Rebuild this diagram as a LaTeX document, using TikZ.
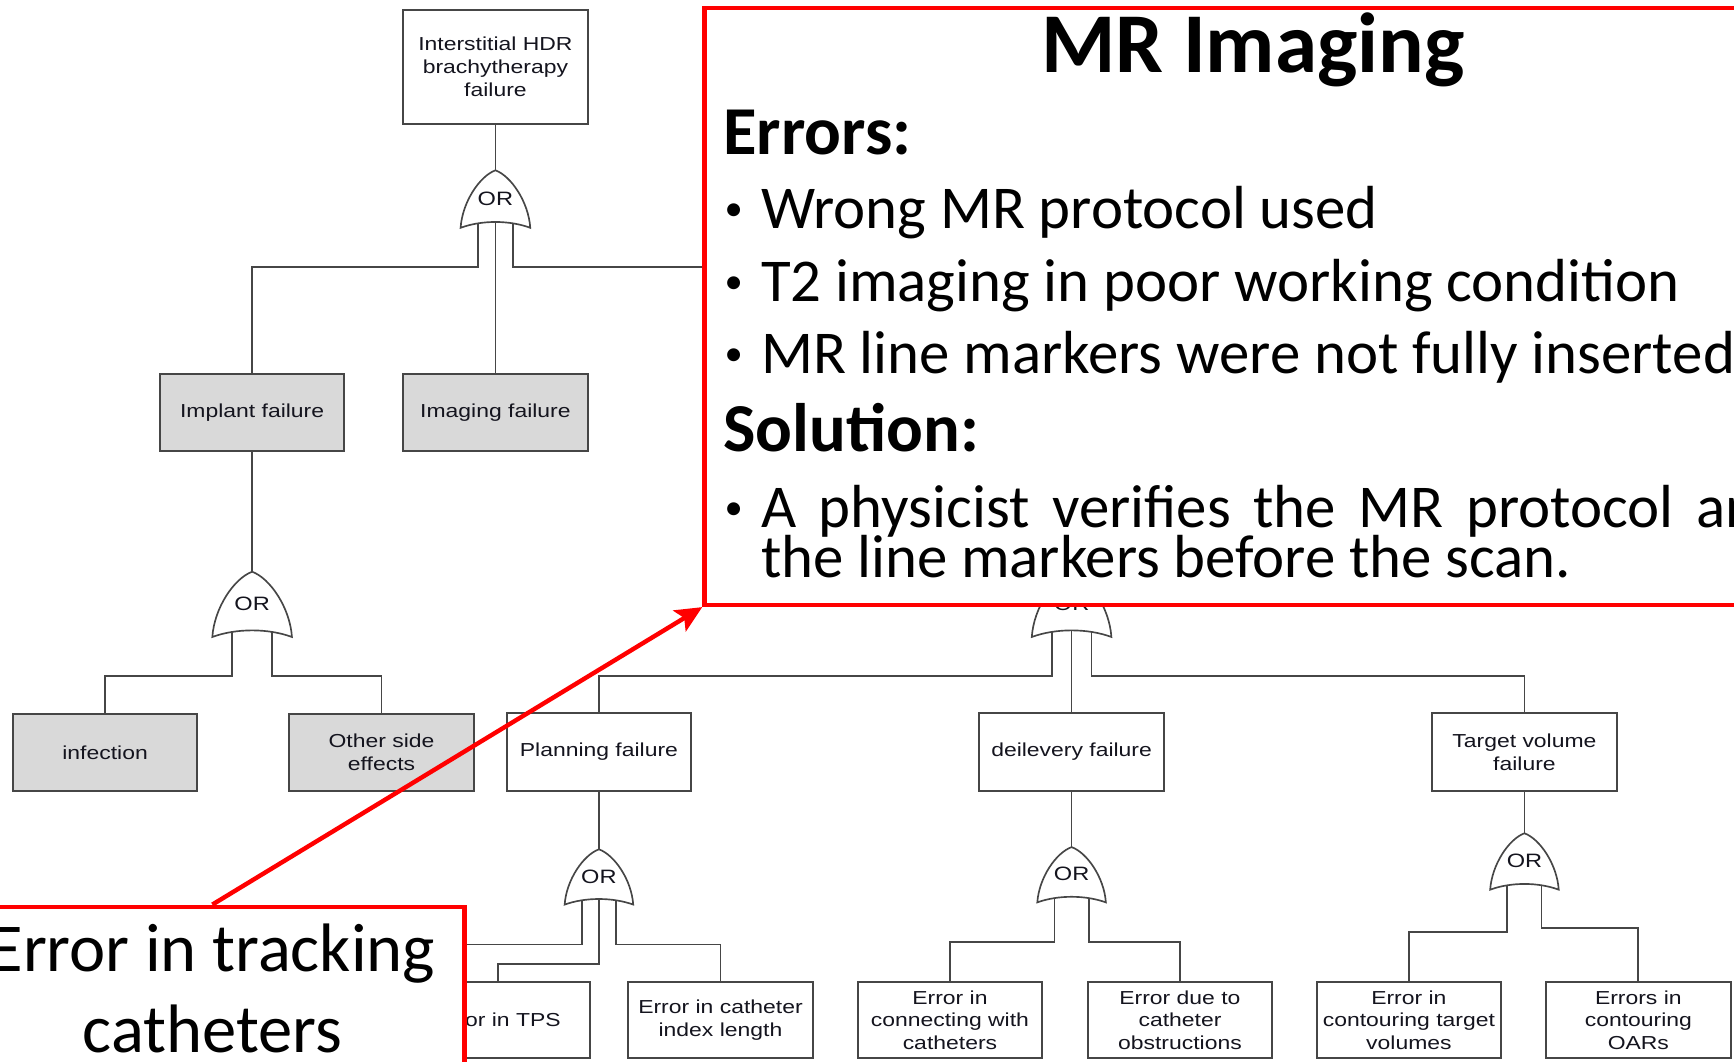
\documentclass[tikz,border=0pt]{standalone}
\usepackage{fontspec}
\setmainfont{Carlito}
\newfontfamily\diagfont[FakeStretch=1.22]{Liberation Sans}
\usetikzlibrary{arrows.meta,calc}
\pgfdeclarelayer{bg}
\pgfsetlayers{bg,main}
\definecolor{linec}{RGB}{70,70,70}
\definecolor{boxgrey}{RGB}{217,217,217}
\definecolor{txtc}{RGB}{20,20,30}
\definecolor{callred}{RGB}{255,0,0}
\tikzset{
  fbox/.style={draw=linec, line width=1.8pt, minimum width=167pt, minimum height=69pt,
    align=center, inner sep=2pt, text=txtc, font=\diagfont\fontsize{17}{20.5}\selectfont},
  gbox/.style={fbox, fill=boxgrey},
  wbox/.style={fbox, fill=white},
  conn/.style={draw=linec, line width=1.6pt},
  gateline/.style={draw=linec, line width=1.5pt, fill=white},
  redbox/.style={draw=callred, line width=4pt, fill=white, inner sep=0pt},
  btxt/.style={anchor=base west, inner sep=0pt, font=\fontsize{55}{66}\selectfont},
  bul/.style={anchor=base west, inner sep=0pt, font=\fontsize{33}{40}\selectfont},
  hdr/.style={anchor=base west, inner sep=0pt, font=\bfseries\fontsize{62}{70}\selectfont},
  trk/.style={anchor=base, inner sep=0pt, font=\fontsize{62}{70}\selectfont},
  pics/orgate/.style n args={2}{code={
    \path[gateline] (0,0) .. controls (0.45*#1,0.1*#2) and (0.95*#1,0.55*#2) .. (#1,#2)
      .. controls (0.4*#1,0.865*#2) and (-0.4*#1,0.865*#2) .. (-#1,#2)
      .. controls (-0.95*#1,0.55*#2) and (-0.45*#1,0.1*#2) .. cycle;
    \node[inner sep=0pt, text=txtc, font=\diagfont\fontsize{17.5}{20}\selectfont] at (0,0.49*#2) {OR};
    \coordinate (-apex) at (0,0);
    \coordinate (-l) at (-0.5*#1,0.8*#2);
    \coordinate (-m) at (0,0.8*#2);
    \coordinate (-r) at (0.5*#1,0.8*#2);
  }}
}
\begin{document}
\begin{tikzpicture}[x=1pt,y=-1pt]
\useasboundingbox (0,0) rectangle (1568,960);
\clip (0,0) rectangle (1568,960);

% level coordinates
\coordinate (lv1) at (0,241.5);
\coordinate (lv2) at (0,611);
\coordinate (lv4a) at (0,854);
\coordinate (lv4b) at (0,872);
\coordinate (lv5) at (0,852);
\coordinate (lv6a) at (0,843);
\coordinate (lv6b) at (0,839);
\coordinate (hid1) at (969,241.5);
\coordinate (hid2) at (300,854);

% boxes
\node[wbox, minimum height=103pt] (top) at (448,60.5) {Interstitial HDR\\brachytherapy\\failure};
\node[gbox] (implant) at (228,373) {Implant failure};
\node[gbox] (imaging) at (448,373) {Imaging failure};
\node[gbox, minimum height=70pt] (infection) at (95,680.5) {infection};
\node[gbox, minimum height=70pt] (other) at (345,680.5) {Other side\\effects};
\node[wbox, minimum height=70pt] (planning) at (541.6,680) {Planning failure};
\node[wbox, minimum height=70pt] (deliv) at (969,680) {deilevery failure};
\node[wbox, minimum height=70pt] (target) at (1378.5,680) {Target volume\\failure};
\node[wbox] (tps) at (450,922.5) {Error in TPS};
\node[wbox] (index) at (651.5,922.5) {Error in catheter\\index length};
\node[wbox] (connect) at (859,922.5) {Error in\\connecting with\\catheters};
\node[wbox] (obstr) at (1067,922.5) {Error due to\\catheter\\obstructions};
\node[wbox] (ctarget) at (1274,922.5) {Error in\\contouring target\\volumes};
\node[wbox] (oars) at (1481.5,922.5) {Errors in\\contouring\\OARs};

% gates
\pic (g1) at (448,154) {orgate={31.5}{52}};
\pic (g2) at (228,517) {orgate={36}{59}};
\pic (g3) at (969,517) {orgate={36}{59}};
\pic (g4) at (541.6,768) {orgate={31}{50}};
\pic (g5) at (969,766) {orgate={31}{50}};
\pic (g6) at (1378.5,753.5) {orgate={31}{51}};

% connectors
\begin{pgfonlayer}{bg}
\draw[conn] (top.south) -- (g1-apex);
\draw[conn] (g1-l) -- (g1-l |- lv1) -| (implant.north);
\draw[conn] (g1-m) -- (imaging.north);
\draw[conn] (g1-r) -- (g1-r |- lv1) -- (hid1) -- (g3-apex);
\draw[conn] (implant.south) -- (g2-apex);
\draw[conn] (g2-l) -- (g2-l |- lv2) -| (infection.north);
\draw[conn] (g2-r) -- (g2-r |- lv2) -| (other.north);
\draw[conn] (g3-l) -- (g3-l |- lv2) -| (planning.north);
\draw[conn] (g3-m) -- (deliv.north);
\draw[conn] (g3-r) -- (g3-r |- lv2) -| (target.north);
\draw[conn] (planning.south) -- (g4-apex);
\draw[conn] (g4-l) -- (g4-l |- lv4a) -- (hid2);
\draw[conn] (g4-m) -- (g4-m |- lv4b) -| (tps.north);
\draw[conn] (g4-r) -- (g4-r |- lv4a) -| (index.north);
\draw[conn] (deliv.south) -- (g5-apex);
\draw[conn] (g5-l) -- (g5-l |- lv5) -| (connect.north);
\draw[conn] (g5-r) -- (g5-r |- lv5) -| (obstr.north);
\draw[conn] (target.south) -- (g6-apex);
\draw[conn] (g6-l) -- (g6-l |- lv6a) -| (ctarget.north);
\draw[conn] (g6-r) -- (g6-r |- lv6b) -| (oars.north);
\end{pgfonlayer}

% callout boxes
\node[redbox, minimum width=1003pt, minimum height=540pt] (mr) at (1138.5,277) {};
\node[redbox, minimum width=456pt, minimum height=170pt] (track) at (192,905) {};

% MR text
\node[anchor=base, inner sep=0pt, font=\bfseries\fontsize{77}{80}\selectfont] (title) at (1133,65.5) {MR Imaging};
\node[hdr] (errh) at (654,139.5) {Errors:};
\node[bul] (bu1) at (655,199.6) {•};
\node[btxt] (t1) at (688,206.6) {Wrong MR protocol used};
\node[bul] (bu2) at (655,265.3) {•};
\node[btxt] (t2) at (688,272.3) {T2 imaging in poor working condition};
\node[bul] (bu3) at (655,330.7) {•};
\node[btxt] (t3) at (688,337.7) {MR line markers were not fully inserted};
\node[hdr] (solh) at (654,408.2) {Solution:};
\node[bul] (bu4) at (655,470) {•};
\node[btxt] (t4) at (688,477) {\makebox[930pt][s]{A physicist verifies the MR protocol and}};
\node[btxt] (t5) at (688,522) {the line markers before the scan.};

% tracking text
\node[trk] (tr1) at (192,878.6) {Error in tracking};
\node[trk] (tr2) at (192,952) {catheters};

% arrow
\draw[callred, line width=4pt, -{Stealth[length=24pt,width=22pt,inset=5pt]}] (track.north) -- (mr.south west);
\end{tikzpicture}
\end{document}
